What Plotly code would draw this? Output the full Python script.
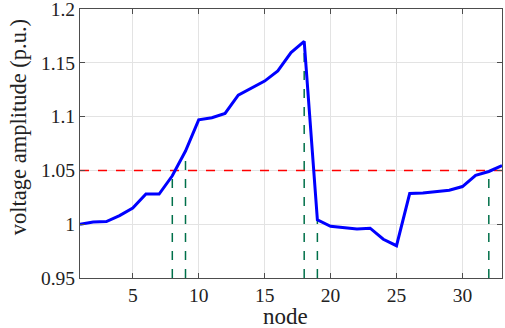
import plotly.graph_objects as go

nodes = list(range(1, 34))
voltage = [1.000, 1.002, 1.0025, 1.008, 1.015, 1.028, 1.028, 1.045, 1.068, 1.097,
           1.099, 1.103, 1.120, 1.1265, 1.133, 1.1425, 1.1595, 1.170, 1.004, 0.998,
           0.9965, 0.9955, 0.9963, 0.986, 0.980, 1.0285, 1.029, 1.030, 1.0315, 1.035,
           1.0455, 1.049, 1.0545]
limit = 1.05
marked_nodes = [8, 9, 18, 19, 32]
x_ticks = [5, 10, 15, 20, 25, 30]
y_ticks = [0.95, 1.0, 1.05, 1.1, 1.15, 1.2]
y_tick_labels = ["0.95", "1", "1.05", "1.1", "1.15", "1.2"]

fig = go.Figure()

for n in marked_nodes:
    v = voltage[nodes.index(n)]
    fig.add_trace(go.Scatter(x=[n, n], y=[0.95, v], mode="lines",
                             line=dict(color="#00704a", width=1.5, dash="dash"),
                             showlegend=False, hoverinfo="skip"))

fig.add_trace(go.Scatter(x=[nodes[0], nodes[-1]], y=[limit, limit], mode="lines",
                         line=dict(color="#ff0000", width=1.5, dash="dash"),
                         showlegend=False))

fig.add_trace(go.Scatter(x=nodes, y=voltage, mode="lines",
                         line=dict(color="#0000ff", width=3),
                         showlegend=False))

font_family = "Times New Roman, Liberation Serif, serif"
axis_common = dict(showgrid=True, gridcolor="#e3e3e3", gridwidth=1, zeroline=False,
                   showline=True, linecolor="#4d4d4d", linewidth=1, mirror="ticks",
                   ticks="inside", ticklen=5, tickcolor="#4d4d4d",
                   tickfont=dict(size=19.5, family=font_family, color="#222222"),
                   ticklabeloverflow="allow", automargin=False)
fig.update_layout(
    width=505, height=328,
    margin=dict(l=80, r=3, t=9, b=50),
    paper_bgcolor="white", plot_bgcolor="white",
    font=dict(family=font_family, color="#222222", size=20),
    xaxis=dict(range=[1, 33], tickvals=x_ticks, **axis_common),
    yaxis=dict(range=[0.95, 1.2], tickvals=y_ticks, ticktext=y_tick_labels,
               **axis_common),
    annotations=[
        dict(text="node", xref="paper", yref="paper", x=0.486, y=0, yshift=-38,
             xanchor="center", yanchor="middle", showarrow=False,
             font=dict(size=23, family=font_family, color="#222222")),
        dict(text="voltage amplitude (p.u.)", xref="paper", yref="paper",
             x=-0.145, y=0.56, xanchor="center", yanchor="middle", textangle=-90,
             showarrow=False, font=dict(size=22.5, family=font_family, color="#222222")),
    ],
)

fig.write_html("out.html", config={"displayModeBar": False})
with open("out.html", "r", encoding="utf-8") as f:
    html = f.read()
html = html.replace("<head>", "<head><style>html,body{margin:0;padding:0;overflow:hidden;}</style>", 1)
with open("out.html", "w", encoding="utf-8") as f:
    f.write(html)
